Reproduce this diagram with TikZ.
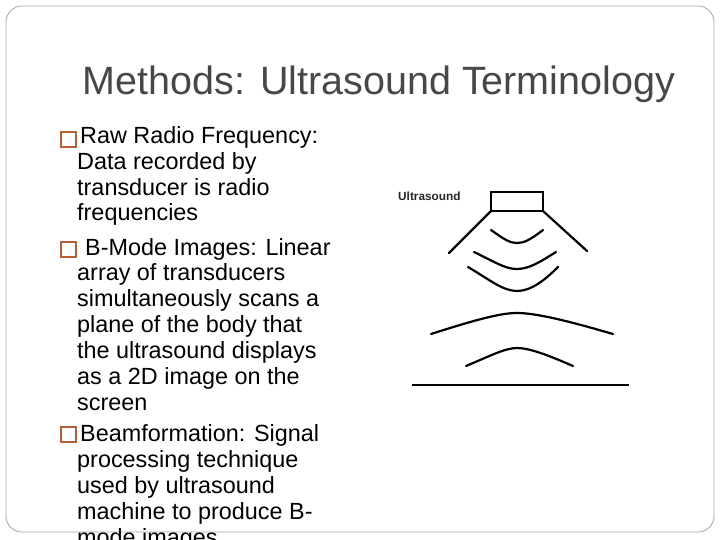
\documentclass[tikz,border=0pt]{standalone}
\usepackage{fontspec}
\setmainfont{Liberation Sans}
\definecolor{bulc}{RGB}{184,96,56}
\begin{document}
\begin{tikzpicture}[x=1pt,y=-1pt,
  txt/.style={anchor=base west,inner sep=0pt,font=\fontsize{23.4}{27}\selectfont,text=black},
  bul/.style={draw=bulc,line width=1.3pt},
  ink/.style={line width=2.2pt,black,line cap=round}]
\useasboundingbox (0,0) rectangle (720,540);
\begin{scope}
\clip (0,0) rectangle (720,540);
\draw[gray!70,line width=0.8pt,rounded corners=16pt] (6,6) rectangle (714,532);
\node[anchor=base,inner sep=0pt,font=\fontsize{39.5}{44}\selectfont,text=black!72] (title) at (379,95) {Methods: Ultrasound Terminology};
\draw[bul] (61,132) rectangle (76,147);
\draw[bul] (61,242) rectangle (76,257);
\draw[bul] (61,427) rectangle (76,442);
\node[txt] (l1) at (80,144) {Raw Radio Frequency:};
\node[txt] (l2) at (77,170) {Data recorded by};
\node[txt] (l3) at (77,196) {transducer is radio};
\node[txt] (l4) at (77,221) {frequencies};
\node[txt] (l5) at (85,255) {B-Mode Images: Linear};
\node[txt] (l6) at (77,280) {array of transducers};
\node[txt] (l7) at (77,306) {simultaneously scans a};
\node[txt] (l8) at (77,332) {plane of the body that};
\node[txt] (l9) at (77,358) {the ultrasound displays};
\node[txt] (l10) at (77,384) {as a 2D image on the};
\node[txt] (l11) at (77,410) {screen};
\node[txt] (l12) at (80,441) {Beamformation: Signal};
\node[txt] (l13) at (77,467) {processing technique};
\node[txt] (l14) at (77,493) {used by ultrasound};
\node[txt] (l15) at (77,519) {machine to produce B-};
\node[txt] (l16) at (77,545) {mode images};
\end{scope}
\node[anchor=base west,inner sep=0pt,font=\bfseries\fontsize{11.8}{14}\selectfont,text=black!85] (us) at (398,201) {Ultrasound};
\draw[line width=2pt] (491,192) rectangle (543,211);
\draw[ink] (491,211) -- (449,253);
\draw[ink] (543,211) -- (587,251);
\draw[ink] (491,230) .. controls (505,240) and (510,243) .. (517,243) .. controls (524,243) and (530,240) .. (543,230);
\draw[ink] (474,252) .. controls (495,262) and (505,269) .. (517,269) .. controls (529,269) and (540,262) .. (556,252);
\draw[ink] (468,267) .. controls (490,280) and (503,291) .. (517,291) .. controls (531,291) and (545,280) .. (558,267);
\draw[ink] (431,334) .. controls (475,320) and (500,313) .. (517,313) .. controls (535,313) and (565,320) .. (613,334);
\draw[ink] (466,366) .. controls (490,356) and (505,348) .. (517,348) .. controls (530,348) and (550,356) .. (573,366);
\draw[line width=2.2pt] (412,385) -- (629,385);
\end{tikzpicture}
\end{document}
